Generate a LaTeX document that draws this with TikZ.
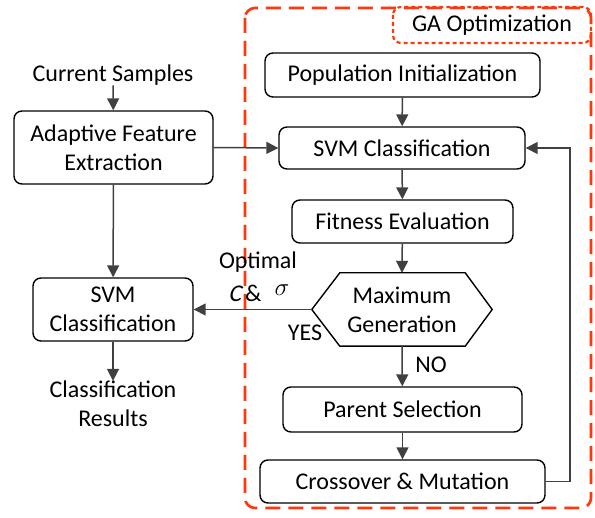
\documentclass[tikz,border=0pt]{standalone}
\usepackage{fontspec}
\setmainfont{Carlito}
\newfontfamily\slantfont{Carlito}[FakeSlant=0.22]
\usetikzlibrary{arrows.meta,calc}
\definecolor{gared}{RGB}{255,55,10}
\definecolor{lgray}{RGB}{64,64,64}
\begin{document}
\begin{tikzpicture}[x=1pt,y=-1pt,
  font=\fontsize{24}{29}\selectfont,
  box/.style={draw=black,line width=1.4pt,rounded corners=8pt,align=center,inner sep=0pt},
  conn/.style={draw=lgray,line width=1.5pt,-{Triangle[length=12pt,width=12pt]}},
  lbl/.style={align=center,inner sep=0pt}]
\useasboundingbox (0,0) rectangle (595,518);
% GA region
\draw[gared,line width=2.6pt,dash pattern=on 15pt off 8pt,rounded corners=10pt] (245,8) rectangle (591,508);
\draw[gared,line width=2.2pt,dash pattern=on 4pt off 3pt,rounded corners=8pt] (393,7) rectangle (591,43);
\node[lbl] (ga) at (492,25) {GA Optimization};
% GA nodes
\node[box,minimum width=275pt,minimum height=44pt] (pop) at (402.5,75) {Population Initialization};
\node[box,minimum width=246pt,minimum height=42pt] (svm) at (402,148) {SVM Classification};
\node[box,minimum width=221pt,minimum height=43pt] (fit) at (402.5,221.5) {Fitness Evaluation};
\node[lbl,minimum width=180pt,minimum height=73pt] (mg) at (402,309.5) {Maximum\\Generation};
\draw[black,line width=1.4pt] (mg.west) -- ($(mg.north west)+(28,0)$) -- ($(mg.north east)+(-27,0)$) -- (mg.east) -- ($(mg.south east)+(-27,0)$) -- ($(mg.south west)+(28,0)$) -- cycle;
\node[box,minimum width=239pt,minimum height=45pt] (par) at (402.5,409.5) {Parent Selection};
\node[box,minimum width=285pt,minimum height=43pt] (cro) at (402.5,481.5) {Crossover \& Mutation};
% left nodes
\node[lbl] (cur) at (113,75) {Current Samples};
\node[box,minimum width=199pt,minimum height=73pt] (afe) at (113.5,147.5) {Adaptive Feature\\Extraction};
\node[box,minimum width=160pt,minimum height=63pt] (svl) at (113,309.5) {SVM\\Classification};
\node[lbl] (res) at (113,404) {Classification\\Results};
% labels
\node[lbl] (opt) at (258,262) {Optimal};
\node[lbl] (cs) at (245,293) {{\slantfont C}\,\&};
\node[lbl] (sig) at (282,290) {$\sigma$};
\node[lbl] (yes) at (305,333) {YES};
\node[lbl] (no) at (431,365) {NO};
\coordinate (fb1) at (570,481.5);
\coordinate (fb2) at (570,148);
% connectors
\draw[conn] (cur) -- (afe);
\draw[conn] (afe.east) -- (svm.west);
\draw[conn] (afe) -- (svl);
\draw[conn] (svl) -- (res);
\draw[conn] (pop) -- (svm);
\draw[conn] (svm) -- (fit);
\draw[conn] (fit) -- (mg.north);
\draw[conn] (mg.south) -- (par);
\draw[conn] (par) -- (cro);
\draw[conn] (mg.west) -- (svl.east);
\draw[conn] (cro.east) -- (fb1) -- (fb2) -- (svm.east);
\end{tikzpicture}
\end{document}
